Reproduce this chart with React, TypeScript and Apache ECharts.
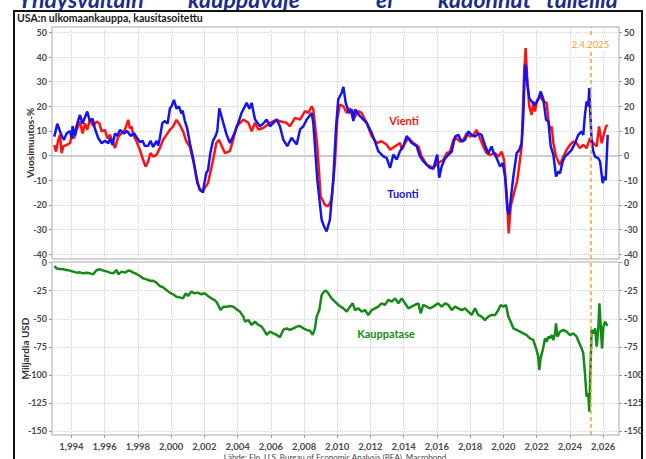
import React, { useEffect, useRef } from "react";
import * as echarts from "echarts";

// ---- data ----
const yearTicks = [1994, 1996, 1998, 2000, 2002, 2004, 2006, 2008, 2010, 2012, 2014, 2016, 2018, 2020, 2022, 2024, 2026];
const pctTicks = [-40, -30, -20, -10, 0, 10, 20, 30, 40, 50];
const usdTicks = [-150, -125, -100, -75, -50, -25, 0];
const tariffDate = 2025.25;
const tariffLabel = "2.4.2025";

const titleWords = ["Yhdysvaltain", "kauppavaje", "ei", "kadonnut", "tulleilla"];
const subtitle = "USA:n ulkomaankauppa, kausitasoitettu";
const sourceText = "Lähde: Elo, U.S. Bureau of Economic Analysis (BEA), Macrobond";

// Vienti (exports), y/y %
const vientiPoints: [number, number][] = [
  [1992.97, 4.3], [1993.07, 1.6], [1993.21, 6.4], [1993.31, 8.4], [1993.41, 1], [1993.51, 3.7], [1993.71, 4.3], [1993.91, 5],
  [1994.01, 7.7], [1994.15, 7], [1994.31, 10.4], [1994.51, 13.8], [1994.67, 9], [1994.81, 13.1], [1994.95, 10.4], [1995.11, 14.5],
  [1995.31, 12], [1995.52, 13.8], [1995.68, 13.1], [1995.82, 9.8], [1996.02, 10.4], [1996.16, 7], [1996.32, 8.4], [1996.52, 5],
  [1996.62, 3], [1996.82, 7.7], [1997.02, 9], [1997.22, 10.4], [1997.42, 14.5], [1997.52, 11], [1997.62, 11.8], [1997.72, 8.4],
  [1997.92, 5.7], [1998.12, 2.3], [1998.32, -1.8], [1998.46, -4.5], [1998.62, -2.4], [1998.76, 1], [1998.92, -0.4], [1999.12, 0.3],
  [1999.32, 3], [1999.52, 6.4], [1999.72, 8.4], [1999.92, 10.4], [2000.12, 11.8], [2000.32, 14.5], [2000.52, 12.5], [2000.72, 9.8],
  [2000.92, 5.7], [2001.12, 3.7], [2001.32, -1.8], [2001.52, -8.5], [2001.72, -14], [2001.86, -14.6], [2002.02, -13.3], [2002.22, -11.2],
  [2002.52, -2], [2002.72, 5], [2002.88, 6.4], [2003.24, 1], [2003.54, 1.8], [2003.74, 6.5], [2003.94, 11.9], [2004.35, 14.6],
  [2004.65, 13.3], [2004.85, 9.9], [2005.05, 13.3], [2005.25, 10.6], [2005.55, 11.2], [2005.95, 13.3], [2006.35, 14.6], [2006.55, 13.9],
  [2006.95, 13.3], [2007.15, 11.9], [2007.46, 15.3], [2007.76, 14.6], [2008.06, 18], [2008.26, 17.3], [2008.46, 20], [2008.56, 18.7],
  [2008.8, 3.8], [2009.0, -16.5], [2009.26, -20], [2009.46, -20.6], [2009.66, -17.9], [2009.86, -3], [2010.0, 14.6], [2010.16, 20.7],
  [2010.37, 20], [2010.57, 17.3], [2010.77, 19.2], [2010.97, 14.6], [2011.27, 18], [2011.47, 17.3], [2011.77, 13.3], [2012.07, 7.9],
  [2012.37, 5.1], [2012.67, 5.8], [2012.97, 4.5], [2013.18, 2.4], [2013.48, 3.8], [2013.78, 5.1], [2013.88, 2.4], [2014.08, 5.1],
  [2014.28, 7.2], [2014.58, 5.1], [2014.88, 3.8], [2015.08, -0.3], [2015.38, -3.7], [2015.78, -5], [2016.08, -3], [2016.38, -1.8],
  [2016.59, 1], [2016.79, 1.6], [2016.99, 6.4], [2017.19, 7], [2017.39, 5.7], [2017.59, 6.4], [2017.79, 9], [2017.99, 7.7],
  [2018.19, 8.4], [2018.39, 10.4], [2018.59, 7], [2018.79, 3.7], [2018.99, 1], [2019.19, 0.3], [2019.49, 1], [2019.7, -0.4],
  [2019.9, 1.6], [2020.04, -1.8], [2020.2, -15.3], [2020.32, -31.6], [2020.44, -20.7], [2020.64, -15.3], [2020.84, -10], [2021.0, -1.8],
  [2021.1, 3.7], [2021.24, 32], [2021.34, 43.6], [2021.44, 30.8], [2021.56, 20], [2021.7, 16.5], [2021.8, 22], [2021.9, 17.9],
  [2022.04, 22.6], [2022.2, 24], [2022.41, 22], [2022.61, 21.4], [2022.71, 14.5], [2022.81, 10.4], [2022.91, 11.8], [2023.01, 5],
  [2023.17, -0.4], [2023.41, -3.8], [2023.61, -0.4], [2023.81, 2.3], [2024.01, 4.3], [2024.21, 5.7], [2024.41, 5], [2024.61, 3],
  [2024.81, 4.3], [2025.01, 3], [2025.21, 7], [2025.42, 5], [2025.62, 3.7], [2025.76, 11.8], [2025.92, 5], [2026.06, 9],
  [2026.18, 11.8], [2026.28, 12.5],
];

// Tuonti (imports), y/y %
const tuontiPoints: [number, number][] = [
  [1992.97, 7.7], [1993.15, 12.9], [1993.41, 8], [1993.55, 6.4], [1993.71, 9], [1993.91, 10], [1994.01, 7], [1994.07, 12],
  [1994.21, 8], [1994.31, 12], [1994.51, 16.5], [1994.67, 13], [1994.95, 17.9], [1995.11, 14], [1995.27, 15], [1995.41, 11],
  [1995.62, 7], [1995.82, 5], [1996.02, 6], [1996.22, 5], [1996.32, 7], [1996.48, 4.3], [1996.62, 9], [1996.76, 8],
  [1996.92, 10.4], [1997.16, 9], [1997.36, 10], [1997.56, 8], [1997.78, 9], [1997.96, 7], [1998.12, 5.5], [1998.28, 6],
  [1998.42, 3.9], [1998.62, 4], [1998.76, 6], [1998.92, 3.5], [1999.12, 6], [1999.22, 4], [1999.32, 7], [1999.47, 13.1],
  [1999.63, 14], [1999.79, 13], [1999.93, 19.2], [2000.03, 20], [2000.17, 22.6], [2000.33, 19], [2000.47, 20], [2000.63, 17],
  [2000.69, 18.3], [2000.83, 14], [2000.97, 11], [2001.13, 5], [2001.29, 0], [2001.43, -5], [2001.57, -11], [2001.72, -13.5],
  [2001.92, -15], [2001.98, -12], [2002.12, -7], [2002.22, -6], [2002.36, 1], [2002.52, 6], [2002.68, 8], [2002.78, 10],
  [2002.9, 19.2], [2003.14, 13.3], [2003.34, 8.5], [2003.54, 5.1], [2003.74, 7.9], [2003.98, 12], [2004.24, 17.3], [2004.55, 21.4],
  [2004.71, 19], [2004.85, 21.4], [2005.05, 14.6], [2005.35, 11.9], [2005.55, 13], [2005.75, 14.6], [2005.95, 11.9], [2006.35, 14.6],
  [2006.55, 11.9], [2006.75, 6.5], [2006.99, 3.8], [2007.25, 7.2], [2007.56, 4.5], [2007.76, 10.6], [2007.96, 11.9], [2008.16, 14.6],
  [2008.46, 17.3], [2008.56, 13.3], [2008.66, 3.8], [2008.8, -9.8], [2009.06, -26], [2009.2, -28.7], [2009.36, -30.8], [2009.56, -26],
  [2009.76, -9.8], [2009.92, 10.6], [2010.06, 22.8], [2010.27, 25.5], [2010.37, 27.9], [2010.51, 21.4], [2010.71, 17.3], [2010.87, 18.7],
  [2010.97, 14], [2011.07, 18.7], [2011.37, 16], [2011.77, 13.3], [2012.07, 9.2], [2012.27, 5.8], [2012.47, 1.8], [2012.77, -0.3],
  [2012.97, -0.9], [2013.18, -5], [2013.38, 0.4], [2013.58, -1.6], [2013.78, 1.8], [2013.98, 3.8], [2014.18, 7.9], [2014.48, 5.1],
  [2014.78, 3.8], [2014.98, -0.3], [2015.18, -2.3], [2015.38, -3.7], [2015.58, -5], [2015.78, -5.4], [2016.02, 0.4], [2016.14, -9],
  [2016.28, -4.5], [2016.49, -1.1], [2016.69, 0.3], [2016.89, 1.6], [2017.09, 7.7], [2017.29, 8.4], [2017.49, 5.7], [2017.69, 6.4],
  [2017.89, 9.8], [2018.09, 8.4], [2018.29, 7.7], [2018.49, 9], [2018.69, 8.4], [2018.89, 4.3], [2019.09, 0.9], [2019.29, 3.7],
  [2019.39, 1.6], [2019.6, -1.1], [2019.8, -4.5], [2019.96, -3], [2020.1, -8.5], [2020.24, -22], [2020.34, -24], [2020.44, -18],
  [2020.6, -8.5], [2020.8, 1], [2020.96, 2.3], [2021.1, 5], [2021.2, 15.9], [2021.3, 36.9], [2021.36, 36], [2021.44, 29],
  [2021.56, 23.3], [2021.7, 22], [2021.9, 20.6], [2022.1, 22.8], [2022.24, 26], [2022.41, 22.8], [2022.57, 14.5], [2022.71, 13.8],
  [2022.85, 3.7], [2023.01, 0.3], [2023.17, -8.5], [2023.31, -6.5], [2023.41, -7.2], [2023.57, -2.4], [2023.71, -0.4], [2023.91, 0.9],
  [2024.11, 2.3], [2024.31, 5], [2024.51, 8.4], [2024.71, 9.8], [2024.81, 8.4], [2024.91, 16.5], [2025.01, 22], [2025.11, 20],
  [2025.17, 27.4], [2025.31, 5.7], [2025.42, 1.6], [2025.52, -0.4], [2025.72, -1.1], [2025.82, -2.4], [2025.98, -11.2], [2026.06, -8.5],
  [2026.16, -10], [2026.28, 8.4],
];

// Kauppatase (trade balance), bn USD
const kauppatasePoints: [number, number][] = [
  [1992.97, -3], [1993.11, -5.1], [1993.31, -5.6], [1993.51, -5.9], [1993.71, -6.5], [1993.91, -7.1], [1994.11, -8], [1994.31, -8.9],
  [1994.51, -8.6], [1994.71, -9.5], [1994.91, -8.9], [1995.11, -9.5], [1995.31, -10.4], [1995.52, -6.5], [1995.72, -5.9], [1995.92, -7.1],
  [1996.12, -7.7], [1996.32, -8.9], [1996.52, -9.5], [1996.72, -6.5], [1996.82, -10.4], [1997.02, -8], [1997.22, -8.9], [1997.42, -7.1],
  [1997.52, -7.1], [1997.72, -8.9], [1997.92, -10.1], [1998.12, -11.9], [1998.32, -14], [1998.52, -14.9], [1998.72, -16.1], [1998.92, -16.1],
  [1999.12, -17.8], [1999.32, -20.8], [1999.52, -22], [1999.72, -24.4], [1999.92, -26.7], [2000.12, -28.2], [2000.32, -30.3], [2000.52, -30.9],
  [2000.72, -31.8], [2000.88, -27.3], [2001.02, -29.7], [2001.22, -25.8], [2001.42, -27.3], [2001.62, -26.7], [2001.82, -28.2], [2002.02, -27.3],
  [2002.22, -29.7], [2002.42, -31.8], [2002.62, -33.3], [2002.76, -35.6], [2002.98, -42.2], [2003.14, -39.2], [2003.34, -39.2], [2003.54, -38.6],
  [2003.74, -39.2], [2003.94, -41.6], [2004.14, -43.6], [2004.35, -48.1], [2004.45, -52.6], [2004.65, -51.1], [2004.85, -55.5], [2005.05, -52.6],
  [2005.25, -55.5], [2005.45, -57], [2005.65, -61.5], [2005.75, -64.4], [2005.95, -61.5], [2006.15, -63], [2006.35, -64.4], [2006.55, -66.5],
  [2006.75, -60], [2006.95, -58.5], [2007.15, -60], [2007.36, -58.5], [2007.56, -57], [2007.76, -56.4], [2007.96, -58.5], [2008.16, -60],
  [2008.36, -60.6], [2008.52, -64.4], [2008.66, -58.5], [2008.76, -48.1], [2008.92, -42.2], [2009.06, -28.8], [2009.2, -25.8], [2009.32, -24.9],
  [2009.46, -27.3], [2009.66, -31.8], [2009.86, -34.7], [2010.06, -37.7], [2010.37, -40.7], [2010.57, -43.6], [2010.77, -39.2], [2010.93, -36.2],
  [2011.07, -42.2], [2011.27, -40.7], [2011.47, -43.6], [2011.67, -42.2], [2011.87, -46.6], [2012.07, -42.2], [2012.27, -40.7], [2012.47, -39.2],
  [2012.67, -36.2], [2012.87, -37.7], [2013.07, -33.2], [2013.28, -34.7], [2013.48, -31.8], [2013.68, -36.2], [2013.88, -31.8], [2014.08, -36.2],
  [2014.28, -40.7], [2014.48, -39.2], [2014.68, -37.7], [2014.88, -36.2], [2015.02, -45.1], [2015.18, -37.7], [2015.38, -39.2], [2015.58, -40.7],
  [2015.78, -39.2], [2016.08, -36.2], [2016.29, -39.2], [2016.49, -36.2], [2016.69, -37.7], [2016.89, -42.2], [2017.09, -39.2], [2017.29, -40.7],
  [2017.49, -42.2], [2017.69, -40.7], [2017.89, -43.7], [2018.09, -46.6], [2018.29, -40.7], [2018.49, -46.6], [2018.69, -48.1], [2018.89, -51.1],
  [2019.09, -48.1], [2019.29, -46.6], [2019.5, -46.6], [2019.7, -42.2], [2019.84, -37.7], [2020.0, -39.2], [2020.16, -37.7], [2020.3, -48.1],
  [2020.44, -52.6], [2020.6, -58.5], [2020.8, -60], [2021.0, -61.5], [2021.2, -63], [2021.4, -64.5], [2021.6, -67.4], [2021.8, -68.9],
  [2021.9, -73.4], [2022.0, -77.8], [2022.1, -83.8], [2022.16, -95.7], [2022.24, -85.3], [2022.37, -77.8], [2022.51, -67.4], [2022.61, -70.4],
  [2022.71, -66], [2022.81, -67.4], [2022.91, -64.5], [2023.01, -69], [2023.11, -63], [2023.17, -54.1], [2023.25, -66], [2023.41, -61.5],
  [2023.61, -60], [2023.81, -61.5], [2024.01, -64.5], [2024.21, -63], [2024.41, -66], [2024.57, -71.9], [2024.71, -76.4], [2024.81, -80.8],
  [2024.91, -98.6], [2025.01, -119.4], [2025.11, -116.5], [2025.17, -132.8], [2025.31, -60], [2025.42, -63], [2025.52, -58.5], [2025.62, -74.9],
  [2025.72, -57], [2025.78, -36.2], [2025.86, -57], [2025.94, -76.4], [2026.02, -57], [2026.12, -52.6], [2026.26, -56.4],
];

const FONT = "Lato, 'Open Sans', 'DejaVu Sans', sans-serif";
const RED = "#ff1212";
const BLUE = "#1414ee";
const GREEN = "#168a16";
const ORANGE = "#eea52e";

export default function App() {
  const ref = useRef<HTMLDivElement>(null);

  useEffect(() => {
    if (!ref.current) return;
    const chart = echarts.init(ref.current, null, { renderer: "svg" });

    const labelStyle = { color: "#4a4a4a", fontSize: 9, fontFamily: FONT, fontWeight: "bold" as const };
    const yLabel = { ...labelStyle, lineHeight: 8, margin: 5 };
    const gridLine = { show: true, lineStyle: { color: "#d2d2d2", type: "dotted" as const, width: 1 } };
    const tickStyle = { color: "#9a9a9a", width: 1 };
    const vline = {
      silent: true,
      symbol: ["none", "none"],
      label: { show: false },
      lineStyle: { color: ORANGE, type: [4, 3], width: 1.5 },
      data: [{ xAxis: tariffDate }],
    };

    const xBase = { type: "value" as const, min: 1992.83, max: 2026.96 };
    const yNameStyle = { color: "#333", fontSize: 10, fontFamily: FONT, fontWeight: "bold" as const };

    chart.setOption({
      animation: false,
      backgroundColor: "#ffffff",
      grid: [
        { left: 52, top: 27, width: 567, height: 232, show: true, borderColor: "#a8a8a8", borderWidth: 1, backgroundColor: "#fff", containLabel: false, outerBoundsMode: "none" },
        { left: 52, top: 262, width: 567, height: 173, show: true, borderColor: "#a8a8a8", borderWidth: 1, backgroundColor: "#fff", containLabel: false, outerBoundsMode: "none" },
      ],
      xAxis: [
        {
          ...xBase, gridIndex: 0,
          axisLine: { show: true, onZero: true, lineStyle: { color: "#c2c2c2", width: 1.6 } },
          axisTick: { show: false, customValues: yearTicks },
          axisLabel: { show: false, customValues: yearTicks },
          splitLine: gridLine,
        },
        {
          ...xBase, gridIndex: 1,
          axisLine: { show: false, onZero: false },
          axisTick: { show: true, length: 3, customValues: yearTicks, lineStyle: tickStyle },
          axisLabel: { show: true, customValues: yearTicks, margin: 6, ...labelStyle, fontSize: 9.5 },
          splitLine: gridLine,
        },
      ],
      yAxis: [
        {
          type: "value", gridIndex: 0, position: "left", min: -42, max: 52.2,
          axisLine: { show: false },
          axisTick: { show: true, length: 3, customValues: pctTicks, lineStyle: tickStyle },
          axisLabel: { customValues: pctTicks, ...yLabel },
          splitLine: gridLine,
          name: "Vuosimuutos-%", nameLocation: "middle", nameGap: 17, nameMoveOverlap: false, nameTextStyle: yNameStyle,
        },
        {
          type: "value", gridIndex: 0, position: "right", min: -42, max: 52.2,
          axisLine: { show: false },
          axisTick: { show: true, length: 3, customValues: pctTicks, lineStyle: tickStyle },
          axisLabel: { customValues: pctTicks, ...yLabel },
          splitLine: { show: false },
        },
        {
          type: "value", gridIndex: 1, position: "left", min: -153.6, max: 0.6,
          axisLine: { show: false },
          axisTick: { show: true, length: 3, customValues: usdTicks, lineStyle: tickStyle },
          axisLabel: { customValues: usdTicks, ...yLabel },
          splitLine: gridLine,
          name: "Miljardia USD", nameLocation: "middle", nameGap: 22, nameMoveOverlap: false, nameTextStyle: yNameStyle,
        },
        {
          type: "value", gridIndex: 1, position: "right", min: -153.6, max: 0.6,
          axisLine: { show: false },
          axisTick: { show: true, length: 3, customValues: usdTicks, lineStyle: tickStyle },
          axisLabel: { customValues: usdTicks, ...yLabel },
          splitLine: { show: false },
        },
      ],
      series: [
        {
          name: "Vienti", type: "line", xAxisIndex: 0, yAxisIndex: 0, data: vientiPoints,
          showSymbol: false, symbol: "none", z: 3,
          lineStyle: { color: RED, width: 2.5 }, itemStyle: { color: RED },
        },
        {
          name: "Tuonti", type: "line", xAxisIndex: 0, yAxisIndex: 0, data: tuontiPoints,
          showSymbol: false, symbol: "none", z: 4,
          lineStyle: { color: BLUE, width: 2.5 }, itemStyle: { color: BLUE },
          markLine: vline,
        },
        {
          name: "Kauppatase", type: "line", xAxisIndex: 1, yAxisIndex: 2, data: kauppatasePoints,
          showSymbol: false, symbol: "none", z: 3,
          lineStyle: { color: GREEN, width: 2.5 }, itemStyle: { color: GREEN },
          markLine: vline,
        },
      ],
    });

    const px = chart.convertToPixel({ xAxisIndex: 0 }, tariffDate) as number;

    const titleX = [18, 188, 376, 438, 546];
    const txt = (text: string, x: number, y: number, font: string, fill: string, align = "left", vAlign = "middle", extra: any = {}) => ({
      type: "text",
      silent: true,
      z: 50,
      style: { text, x, y, font, fill, align, textAlign: align, verticalAlign: vAlign, textVerticalAlign: vAlign, ...extra },
    });

    chart.setOption({
      graphic: [
        ...titleWords.map((w, i) => txt(w, titleX[i], 10, `italic bold 23px ${FONT}`, "#1b2d87", "left", "bottom")),
        {
          type: "rect", silent: true, z: 60,
          shape: { x: 14, y: 11, width: 628, height: 470 },
          style: { fill: "none", stroke: "#111", lineWidth: 2 },
        },
        txt(subtitle, 17, 17.5, `bold 10.5px ${FONT}`, "#1a1a1a"),
        txt("Vienti", 404, 120, `bold 11px ${FONT}`, RED, "center"),
        txt("Tuonti", 403, 193, `bold 11px ${FONT}`, BLUE, "center"),
        txt("Kauppatase", 386, 333, `bold 11px ${FONT}`, GREEN, "center"),
        txt(tariffLabel, px, 44, `9.5px ${FONT}`, ORANGE, "center", "middle", { backgroundColor: "#fff", padding: [1, 1] }),
        txt(sourceText, 335, 453, `8px ${FONT}`, "#444", "center", "top"),
      ],
    });

    return () => chart.dispose();
  }, []);

  return (
    <div
      ref={ref}
      style={{ position: "absolute", left: 0, top: 0, width: 646, height: 459, background: "#fff" }}
    />
  );
}
